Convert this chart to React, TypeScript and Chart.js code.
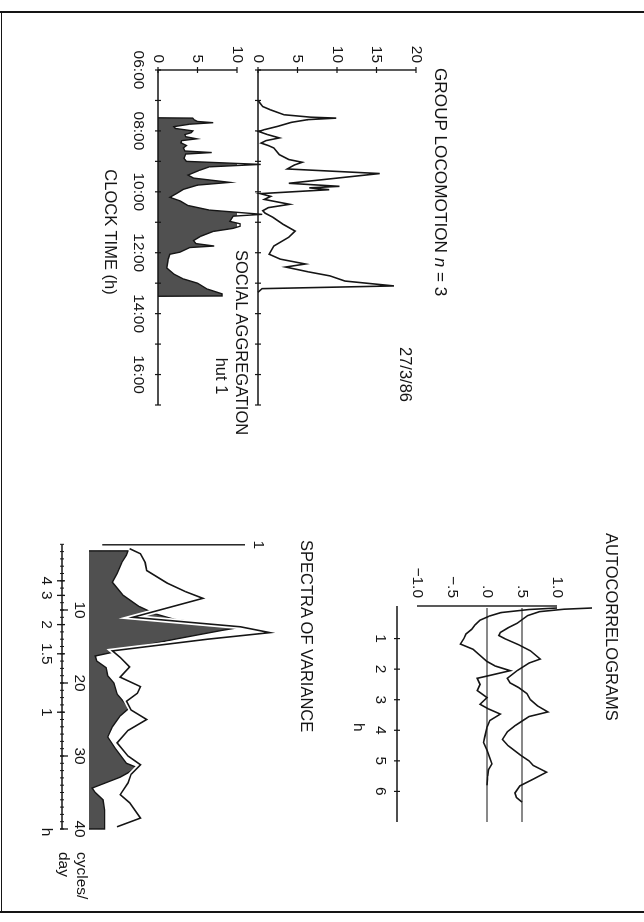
import React, { useEffect, useRef } from 'react';
import { Chart, registerables } from 'chart.js';

Chart.register(...registerables);

// Unrotated figure frame (the page shows it turned 90° clockwise)
const W = 922;
const H = 644;
const FONT = '"Liberation Sans", Arial, Helvetica, sans-serif';
const INK = '#151515';
const DARK = '#505050';

// ---------- Group locomotion (clock time h, count) ----------
const locoHours = [7.0, 7.2, 7.31, 7.47, 7.55, 7.58, 7.63, 7.72, 7.85, 7.96, 8.02, 8.12, 8.23, 8.32, 8.40, 8.48, 8.56, 8.78, 8.94, 9.03, 9.12, 9.25, 9.40, 9.72, 9.82, 9.87, 9.93, 10.06, 10.15, 10.25, 10.41, 10.52, 10.62, 10.7, 10.84, 11.07, 11.29, 11.49, 11.78, 12.05, 12.21, 12.37, 12.47, 12.63, 12.76, 12.93, 13.09, 13.18, 13.3];
const locoCounts = [0, 0.6, 1.6, 3.3, 6.7, 9.9, 6.3, 4.2, 2.5, 0.8, 0.1, 1.2, 2.7, 1.0, 0.4, 1.3, 2.0, 2.7, 3.9, 5.6, 4.6, 3.7, 15.4, 3.9, 10.3, 6.5, 9.0, 0.3, 1.6, 0.8, 4.0, 1.3, 0.6, 0.9, 1.9, 3.2, 4.7, 3.9, 2.0, 1.4, 2.8, 6.0, 3.5, 6.4, 9.1, 11.0, 17.2, 0.5, 0];
const locoTicks = [0, 5, 10, 15, 20];

// ---------- Social aggregation, hut 1 ----------
const socialHours = [7.57, 7.58, 7.64, 7.69, 7.73, 7.78, 7.86, 7.92, 8.0, 8.06, 8.12, 8.19, 8.26, 8.32, 8.39, 8.48, 8.56, 8.66, 8.71, 8.76, 8.9, 9.0, 9.10, 9.18, 9.3, 9.45, 9.55, 9.69, 9.78, 9.92, 10.05, 10.18, 10.3, 10.45, 10.6, 10.74, 10.8, 10.97, 11.05, 11.13, 11.2, 11.3, 11.46, 11.6, 11.7, 11.78, 11.83, 11.98, 12.05, 12.21, 12.5, 12.7, 12.86, 13.0, 13.19, 13.35, 13.42, 13.43];
const socialCounts = [0, 4.4, 4.6, 5.0, 7.0, 4.0, 2.0, 2.2, 4.4, 4.2, 3.4, 3.5, 4.9, 3.0, 2.9, 3.6, 3.2, 3.4, 6.8, 3.5, 3.3, 3.6, 13.0, 6.5, 5.2, 3.8, 4.5, 9.1, 5.0, 3.2, 2.4, 1.5, 2.8, 3.8, 6.5, 13.2, 9.5, 9.1, 10.4, 10.4, 9.5, 7.0, 5.4, 4.5, 4.8, 7.1, 4.0, 2.8, 1.5, 1.3, 1.1, 2.0, 3.2, 5.0, 6.2, 8.1, 8.1, 0];
const socialTicks = [0, 5, 10];

// ---------- Clock-time axis ----------
const hourTicks = [6, 7, 8, 9, 10, 11, 12, 13, 14, 15, 16, 17];
const clockLabelHours = [6, 8, 10, 12, 14, 16];
const clockLabels = ['06:00', '08:00', '10:00', '12:00', '14:00', '16:00'];

// ---------- Autocorrelograms (lag h, r) ----------
const lagA = [0, 0.05, 0.15, 0.26, 0.4, 0.55, 0.7, 0.85, 1.0, 1.18, 1.35, 1.55, 1.75, 1.9, 2.05, 2.2, 2.3, 2.5, 2.7, 2.93, 3.15, 3.3, 3.47, 3.68, 3.9, 4.2, 4.4, 4.65, 4.9, 5.1, 5.3, 5.5, 5.8];
const acfA = [1.0, 0.6, 0.2, 0.04, -0.1, -0.17, -0.22, -0.3, -0.33, -0.38, -0.2, -0.1, 0.0, 0.12, 0.33, 0.05, -0.14, -0.1, -0.14, 0.0, -0.1, 0.02, 0.19, 0.04, 0.0, -0.03, -0.05, 0.0, 0.04, 0.07, 0.02, 0.01, 0.0];
const lagB = [0, 0.04, 0.12, 0.25, 0.35, 0.5, 0.65, 0.8, 0.9, 1.0, 1.2, 1.4, 1.67, 1.8, 2.05, 2.3, 2.45, 2.6, 2.8, 3.0, 3.2, 3.4, 3.55, 3.7, 3.85, 4.05, 4.3, 4.5, 4.8, 5.0, 5.15, 5.37, 5.6, 5.82, 6.05, 6.2, 6.35];
const acfB = [1.5, 1.1, 0.75, 0.58, 0.52, 0.43, 0.3, 0.19, 0.17, 0.25, 0.45, 0.62, 0.76, 0.6, 0.43, 0.29, 0.33, 0.45, 0.57, 0.62, 0.72, 0.87, 0.6, 0.5, 0.4, 0.29, 0.22, 0.3, 0.47, 0.6, 0.66, 0.85, 0.66, 0.47, 0.4, 0.42, 0.5];
const acfRefLines = [0, 0.5];
const acfTicks = [1, 0.5, 0, -0.5, -1];
const acfTickLabels = ['1.0', '.5', '.0', '\u2212.5', '\u22121.0'];
const lagTicks = [1, 2, 3, 4, 5, 6];
const lagEnd = 7;

// ---------- Spectra of variance (cycles/day, power) ----------
const freqDark = [1.9, 1.9, 2.5, 3.5, 5, 6.2, 8, 9.5, 10.5, 11.3, 11.9, 12.3, 12.8, 14, 15, 15.8, 16.3, 17, 17.9, 19, 20, 21.5, 22.5, 23.4, 24.5, 26, 27.4, 29, 31, 31.6, 32.9, 34.4, 35, 36, 37.4, 39.2, 40, 40];
const powerDark = [0, 0.25, 0.24, 0.21, 0.18, 0.15, 0.22, 0.32, 0.42, 0.55, 0.78, 0.99, 0.85, 0.55, 0.32, 0.15, 0.04, 0.05, 0.11, 0.12, 0.16, 0.18, 0.22, 0.26, 0.2, 0.15, 0.12, 0.17, 0.24, 0.31, 0.2, 0.02, 0.04, 0.09, 0.1, 0.1, 0.1, 0];
const freqWhite = [1.6, 2.3, 3.5, 4.6, 6.3, 7.5, 8.4, 11.0, 12.3, 13.1, 14.0, 15.6, 16.5, 17.8, 19.2, 20.5, 21.4, 22.5, 23.7, 25, 26.5, 28.2, 30, 31.2, 32.5, 33.7, 35.3, 36.4, 38.5, 39.7];
const powerWhite = [0.26, 0.33, 0.36, 0.37, 0.5, 0.62, 0.73, 0.28, 0.97, 1.16, 0.76, 0.15, 0.2, 0.26, 0.2, 0.33, 0.31, 0.24, 0.27, 0.37, 0.25, 0.18, 0.25, 0.33, 0.27, 0.25, 0.2, 0.26, 0.33, 0.18];
const freqLabelValues = [10, 20, 30, 40];
const periodHours = [4, 3, 2, 1.5, 1];
const periodLabels = ['4', '3', '2', '1.5', '1'];
const freqStart = 1;
const freqEnd = 40;

// ---------- helpers ----------
const pts = (xs: number[], ys: number[]) => xs.map((x, i) => ({ x, y: ys[i] }));
const pad = (uL: number, uR: number, vT: number, vB: number) => ({ left: uL, right: W - uR, top: vT, bottom: H - vB });

function seg(ctx: CanvasRenderingContext2D, x1: number, y1: number, x2: number, y2: number, w = 1.4) {
  ctx.save();
  ctx.beginPath();
  ctx.moveTo(x1, y1);
  ctx.lineTo(x2, y2);
  ctx.lineWidth = w;
  ctx.strokeStyle = INK;
  ctx.lineCap = 'butt';
  ctx.stroke();
  ctx.restore();
}

function label(ctx: CanvasRenderingContext2D, s: string, x: number, y: number, align: CanvasTextAlign = 'center', size = 15.5) {
  ctx.save();
  ctx.font = `${size}px ${FONT}`;
  ctx.fillStyle = INK;
  ctx.textAlign = align;
  ctx.textBaseline = 'middle';
  ctx.fillText(s, x, y);
  ctx.restore();
}

function baseOptions(xMin: number, xMax: number, yMin: number, yMax: number, padding: any) {
  return {
    responsive: false,
    maintainAspectRatio: false,
    animation: false,
    events: [],
    layout: { padding },
    plugins: { legend: { display: false }, tooltip: { enabled: false }, title: { display: false } },
    scales: {
      x: { type: 'linear', min: xMin, max: xMax, display: false },
      y: { type: 'linear', min: yMin, max: yMax, display: false },
    },
  };
}

const lineDs = { borderColor: INK, borderWidth: 1.6, pointRadius: 0, tension: 0, fill: false, clip: false };

// ---------- chart configs ----------
const locoConfig = () => ({
  type: 'line',
  data: { datasets: [{ ...lineDs, data: pts(locoHours, locoCounts) }] },
  options: baseOptions(6, 17, 0, 20, pad(70, 405, 228, 386)),
  plugins: [{
    id: 'locoAxes',
    beforeDatasetsDraw(chart: any) {
      const { ctx } = chart;
      const xs = chart.scales.x, ys = chart.scales.y;
      const x0 = xs.getPixelForValue(hourTicks[0]);
      const x1 = xs.getPixelForValue(hourTicks[hourTicks.length - 1]);
      const y0 = ys.getPixelForValue(0);
      seg(ctx, x0, y0, x1, y0);
      seg(ctx, x0, y0, x0, ys.getPixelForValue(locoTicks[locoTicks.length - 1]));
      hourTicks.forEach((h) => { const p = xs.getPixelForValue(h); seg(ctx, p, y0 - 3, p, y0 + 3, 1.2); });
      locoTicks.forEach((t) => {
        const p = ys.getPixelForValue(t);
        seg(ctx, x0 - 3, p, x0 + 3, p, 1.2);
        label(ctx, String(t), x0 - 7, p, 'right');
      });
    },
  }],
});

const socialConfig = () => ({
  type: 'line',
  data: {
    datasets: [{
      ...lineDs,
      borderWidth: 1.4,
      fill: 'origin',
      backgroundColor: DARK,
      data: pts(socialHours, socialCounts),
    }],
  },
  options: baseOptions(6, 17, 0, 10, pad(70, 405, 407, 486)),
  plugins: [{
    id: 'socialAxes',
    afterDatasetsDraw(chart: any) {
      const { ctx } = chart;
      const xs = chart.scales.x, ys = chart.scales.y;
      const x0 = xs.getPixelForValue(hourTicks[0]);
      const x1 = xs.getPixelForValue(hourTicks[hourTicks.length - 1]);
      const y0 = ys.getPixelForValue(0);
      seg(ctx, x0, y0, x1, y0);
      seg(ctx, x0, y0, x0, ys.getPixelForValue(socialTicks[socialTicks.length - 1]));
      hourTicks.forEach((h) => { const p = xs.getPixelForValue(h); seg(ctx, p, y0 - 3, p, y0 + 3, 1.2); });
      socialTicks.forEach((t) => {
        const p = ys.getPixelForValue(t);
        seg(ctx, x0 - 3, p, x0 + 3, p, 1.2);
        label(ctx, String(t), x0 - 7, p, 'right');
      });
      clockLabelHours.forEach((h, i) => label(ctx, clockLabels[i], xs.getPixelForValue(h), y0 + 20));
    },
  }],
});

const acfConfig = () => ({
  type: 'line',
  data: {
    datasets: [
      { ...lineDs, data: pts(lagA, acfA) },
      { ...lineDs, data: pts(lagB, acfB) },
    ],
  },
  options: baseOptions(0, lagEnd, -1, 1, pad(608, 822, 87, 227)),
  plugins: [{
    id: 'acfAxes',
    beforeDatasetsDraw(chart: any) {
      const { ctx } = chart;
      const xs = chart.scales.x, ys = chart.scales.y;
      const x0 = xs.getPixelForValue(0);
      const x1 = xs.getPixelForValue(lagEnd);
      seg(ctx, x0 - 2, ys.getPixelForValue(-1), x0 - 2, ys.getPixelForValue(1));
      acfTicks.forEach((t, i) => label(ctx, acfTickLabels[i], x0 - 10, ys.getPixelForValue(t), 'right'));
      acfRefLines.forEach((r) => seg(ctx, x0, ys.getPixelForValue(r), x1, ys.getPixelForValue(r), 1.1));
      const yl = ys.getPixelForValue(-1) + 20;
      seg(ctx, x0 - 2, yl, x1, yl);
      lagTicks.forEach((t) => {
        const p = xs.getPixelForValue(t);
        seg(ctx, p, yl - 3, p, yl + 3, 1.2);
        label(ctx, String(t), p, yl + 17);
      });
      label(ctx, 'h', xs.getPixelForValue(3.9), yl + 39);
    },
  }],
});

const spectraConfig = () => ({
  type: 'line',
  data: {
    datasets: [
      { ...lineDs, borderWidth: 1.4, fill: 'origin', backgroundColor: DARK, data: pts(freqDark, powerDark), order: 3 },
      { ...lineDs, borderColor: '#ffffff', borderWidth: 5, data: pts(freqWhite, powerWhite), order: 2 },
      { ...lineDs, borderWidth: 1.6, data: pts(freqWhite, powerWhite), order: 1 },
    ],
  },
  options: baseOptions(0, 40, 0, 1, pad(537, 829, 399, 555)),
  plugins: [{
    id: 'spectraAxes',
    afterDatasetsDraw(chart: any) {
      const { ctx } = chart;
      const xs = chart.scales.x, ys = chart.scales.y;
      const xa = xs.getPixelForValue(freqStart);
      const xb = xs.getPixelForValue(freqEnd);
      seg(ctx, xa + 0.5, ys.getPixelForValue(0.085), xa + 0.5, ys.getPixelForValue(1));
      label(ctx, '1', xa + 0.5, ys.getPixelForValue(1) - 13);
      const yf = ys.getPixelForValue(0) + 27;
      seg(ctx, xa, yf, xb, yf);
      for (let f = freqStart; f <= freqEnd; f += 1) {
        const p = xs.getPixelForValue(f);
        seg(ctx, p, yf - 2, p, yf + 2, 1);
      }
      freqLabelValues.forEach((f) => {
        const p = xs.getPixelForValue(f);
        seg(ctx, p, yf - 6, p, yf + 2, 1.3);
        label(ctx, String(f), p, yf - 17);
      });
      periodHours.forEach((h, i) => {
        const p = xs.getPixelForValue(24 / h);
        seg(ctx, p, yf - 3, p, yf + 5, 1.3);
        label(ctx, periodLabels[i], p, yf + 16);
      });
      label(ctx, 'h', xs.getPixelForValue(freqEnd) + 3, yf + 16);
    },
  }],
});

// ---------- components ----------
function ChartCanvas({ make }: { make: () => any }) {
  const ref = useRef<HTMLCanvasElement>(null);
  useEffect(() => {
    const chart = new Chart(ref.current as HTMLCanvasElement, make());
    return () => chart.destroy();
  }, []);
  return (
    <canvas
      ref={ref}
      width={W}
      height={H}
      style={{ position: 'absolute', left: 0, top: 0, width: W, height: H }}
    />
  );
}

function Txt({ u, v, center = false, size = 16.5, children }: { u: number; v: number; center?: boolean; size?: number; children: any }) {
  return (
    <div
      style={{
        position: 'absolute',
        left: u,
        top: v,
        transform: center ? 'translate(-50%, -50%)' : 'translateY(-50%)',
        fontFamily: FONT,
        fontSize: size,
        lineHeight: 1,
        color: INK,
        whiteSpace: 'nowrap',
      }}
    >
      {children}
    </div>
  );
}

export default function App() {
  const border = { position: 'absolute' as const, background: INK };
  return (
    <div style={{ position: 'fixed', left: 0, top: 0, width: 644, height: 922, background: '#fff', overflow: 'hidden' }}>
      <div
        style={{
          position: 'absolute',
          left: 0,
          top: 0,
          width: W,
          height: H,
          transformOrigin: '0 0',
          transform: 'translate(644px, 0) rotate(90deg)',
        }}
      >
        <ChartCanvas make={locoConfig} />
        <ChartCanvas make={socialConfig} />
        <ChartCanvas make={acfConfig} />
        <ChartCanvas make={spectraConfig} />

        <div style={{ ...border, left: 11, top: 0, width: 1.6, height: H }} />
        <div style={{ ...border, left: 911, top: 0, width: 1.6, height: H }} />
        <div style={{ ...border, left: 11, top: 641.5, width: 901, height: 1.6 }} />

        <Txt u={68} v={204} size={17.2}>GROUP LOCOMOTION <i>n</i> = 3</Txt>
        <Txt u={347} v={238}>27/3/86</Txt>
        <Txt u={250} v={402}>SOCIAL AGGREGATION</Txt>
        <Txt u={376} v={422} center>hut 1</Txt>
        <Txt u={232} v={533} center>CLOCK TIME (h)</Txt>

        <Txt u={533} v={32}>AUTOCORRELOGRAMS</Txt>
        <Txt u={540} v={337}>SPECTRA OF VARIANCE</Txt>
        <Txt u={852} v={562} size={15.5}>cycles/</Txt>
        <Txt u={852} v={580} size={15.5}>day</Txt>
      </div>
    </div>
  );
}
